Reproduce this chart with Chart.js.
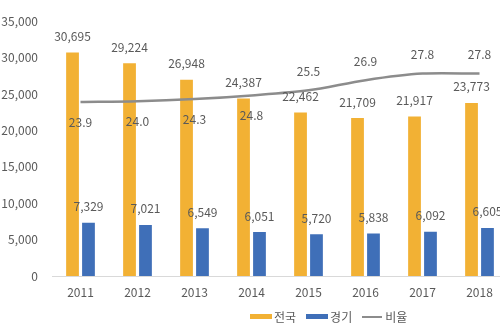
<!DOCTYPE html>
<html>
<head>
<meta charset="utf-8">
<script src="https://cdn.jsdelivr.net/npm/chart.js@4"></script>
<style>
  html, body { margin: 0; padding: 0; background: #fff; overflow: hidden; }
  #wrap { position: relative; width: 510px; height: 334px; }
  #legend { position: absolute; left: 250px; top: 308px; font: 12px "Noto Sans CJK KR", sans-serif; color: #595959; display: flex; align-items: center; }
  #legend span.sw { display: inline-block; width: 22px; height: 5px; margin-right: 2px; }
  #legend span.ln { display: inline-block; width: 20px; height: 2px; background: #8c8c8c; margin-right: 3px; }
  #legend span.tx { margin-right: 10px; }
</style>
</head>
<body>
<div id="wrap">
  <canvas id="chart" width="510" height="334"></canvas>
  <div id="legend">
    <span class="sw" style="background:#f2b134"></span><span class="tx">전국</span>
    <span class="sw" style="background:#3f6fb8"></span><span class="tx">경기</span>
    <span class="ln"></span><span class="tx">비율</span>
  </div>
</div>
<script>
const years = ["2011", "2012", "2013", "2014", "2015", "2016", "2017", "2018"];
const national = [30695, 29224, 26948, 24387, 22462, 21709, 21917, 23773];
const gyeonggi = [7329, 7021, 6549, 6051, 5720, 5838, 6092, 6605];
const ratio = [23.9, 24.0, 24.3, 24.8, 25.5, 26.9, 27.8, 27.8];
const yTicks = [0, 5000, 10000, 15000, 20000, 25000, 30000, 35000];

const textColor = "#595959";
const fontFamily = "'Noto Sans CJK KR', 'Noto Sans', sans-serif";

// value labels above bars, ratio labels below/above the line
const valueLabels = {
  id: "valueLabels",
  afterDatasetsDraw(chart) {
    const ctx = chart.ctx;
    ctx.save();
    ctx.font = "12px " + fontFamily;
    ctx.fillStyle = textColor;
    ctx.textAlign = "center";
    ctx.textBaseline = "middle";
    chart.data.datasets.forEach((ds, di) => {
      const meta = chart.getDatasetMeta(di);
      meta.data.forEach((el, i) => {
        const v = ds.data[i];
        if (ds.type === "line") {
          const dy = i < 4 ? 20 : -19;
          ctx.fillText(v.toFixed(1), el.x, el.y + dy);
        } else {
          ctx.fillText(v.toLocaleString("en-US"), el.x, el.y - 16);
        }
      });
    });
    ctx.restore();
  }
};

new Chart(document.getElementById("chart"), {
  data: {
    labels: years,
    datasets: [
      {
        type: "line",
        label: "비율",
        data: ratio,
        yAxisID: "y2",
        borderColor: "#8c8c8c",
        borderWidth: 2.5,
        pointRadius: 0,
        tension: 0.3,
        order: 0
      },
      {
        type: "bar",
        label: "전국",
        data: national,
        backgroundColor: "#f2b134",
        categoryPercentage: 0.56,
        barPercentage: 0.8,
        order: 1
      },
      {
        type: "bar",
        label: "경기",
        data: gyeonggi,
        backgroundColor: "#3f6fb8",
        categoryPercentage: 0.56,
        barPercentage: 0.8,
        order: 1
      }
    ]
  },
  options: {
    responsive: false,
    animation: false,
    layout: { padding: { top: 16, bottom: 34, right: 2, left: 0 } },
    plugins: {
      legend: { display: false },
      tooltip: { enabled: false }
    },
    scales: {
      x: {
        grid: { display: false, drawTicks: false },
        border: { color: "#d9d9d9", width: 1 },
        ticks: { color: textColor, font: { size: 12, family: fontFamily }, padding: 9 },
        afterFit(s) { s.height = 24; }
      },
      y: {
        min: 0,
        max: 35000,
        afterBuildTicks(s) { s.ticks = yTicks.map(v => ({ value: v })); },
        grid: { display: false, drawTicks: false },
        border: { display: false },
        ticks: {
          color: textColor,
          font: { size: 12, family: fontFamily },
          padding: 14,
          callback: v => v.toLocaleString("en-US")
        },
        afterFit(s) { s.width = 52; }
      },
      y2: {
        display: false,
        position: "right",
        min: 0,
        max: 35
      }
    }
  },
  plugins: [valueLabels]
});
</script>
</body>
</html>
